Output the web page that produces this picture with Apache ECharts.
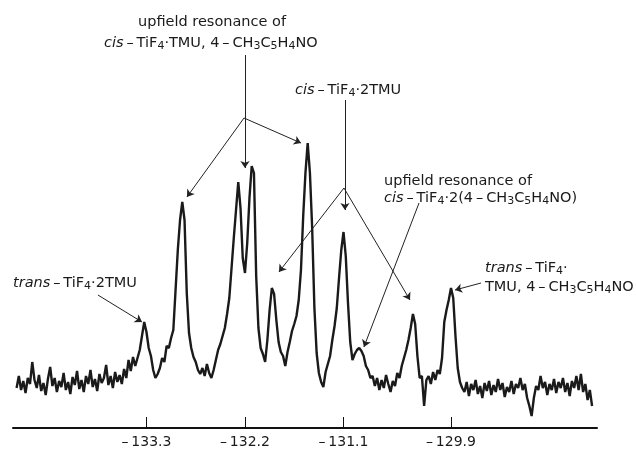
<!DOCTYPE html>
<html>
<head>
<meta charset="utf-8">
<script src="https://cdn.jsdelivr.net/npm/echarts@6/dist/echarts.min.js"></script>
<style>
    html, body { margin: 0; padding: 0; background: #fff; }
    #myChart { width: 636px; height: 449px; }
</style>
</head>
<body>
<div id="myChart"></div>
<script>
    // 19F spectrum, chemical shift (ppm) sampled on an even grid
    const ppmStart = -134.75;
    const ppmStep = 0.025;
    // signal height, one value per grid step
    const intensity = [
        40, 52, 38, 47, 35, 50, 44, 66, 48, 40,
        53, 37, 45, 33, 49, 61, 42, 50, 36, 47,
        41, 55, 38, 46, 34, 51, 43, 57, 39, 48,
        36, 52, 44, 58, 41, 49, 37, 54, 45, 50,
        63, 43, 52, 40, 56, 46, 53, 44, 59, 50,
        68, 57, 71,
        62, 70, 78, 92, 106, 96, 80, 72, 58, 50,
        54, 60, 70, 66, 82, 80, 90, 98, 138, 178,
        208, 226, 208, 135, 95, 80, 71, 66, 58, 54,
        60, 52, 64, 55, 50, 58, 68, 78, 84, 92,
        100, 114, 130, 160, 190, 218, 246,
        220, 170, 155, 185, 230, 262, 255, 152, 100, 80,
        74, 66, 88, 118, 140, 134, 108, 86, 76, 72,
        62, 76, 86, 97, 104, 112, 128, 158, 212, 255,
        285, 255, 200, 120, 75, 55, 46, 41, 56, 64,
        72, 88, 102, 120, 150, 178, 196, 172, 125, 86,
        68, 74, 78, 80, 77, 72, 62, 58, 50, 52,
        42, 50, 38, 48, 40, 53, 44, 36, 47, 42,
        55, 50, 62, 70, 78, 88, 100, 114, 104, 72,
        50, 52, 22, 48, 52, 44, 56, 48, 58, 54,
        70, 106, 118, 128, 140, 130, 92, 60, 46, 40,
        36, 46, 32, 44, 38, 48, 34, 42, 30, 45,
        37, 47, 33, 43, 36, 49, 38, 45, 31, 41,
        36, 47, 34, 44, 40, 50, 38, 44, 30, 22,
        12, 30, 42, 38, 52, 40, 46, 33, 44, 38,
        49, 35, 46, 40, 50, 36, 45, 32, 47, 40,
        52, 38, 54, 36, 44, 28, 38, 22
    ];
    // labelled shifts on the axis
    const tickValues = [-133.3, -132.2, -131.1, -129.9];

    // annotation arrows: [from, to] in (ppm, height)
    const arrows = [
        [[-132.200, 373], [-132.200, 260]],
        [[-132.211, 310], [-132.848, 231]],
        [[-132.211, 310], [-131.575, 285]],
        [[-131.084, 328], [-131.084, 218]],
        [[-131.095, 240], [-131.821, 156]],
        [[-131.095, 240], [-130.358, 128]],
        [[-130.257, 225], [-130.872, 81]],
        [[-133.842, 133], [-133.350, 106]],
        [[-129.565, 145], [-129.855, 138]]
    ];

    let points = intensity.map((v, i) => [ppmStart + i * ppmStep, v]);

    const font = 'DejaVu Sans';
    const dash = '\u2009\u2013\u2009';
    const rich = {
        n: { fontFamily: font, fontSize: 14.5, lineHeight: 18, fill: '#1a1a1a' },
        i: { fontFamily: font, fontSize: 14.5, lineHeight: 18, fontStyle: 'italic', fill: '#1a1a1a' },
        s: { fontFamily: font, fontSize: 11, lineHeight: 10, verticalAlign: 'bottom', fill: '#1a1a1a' }
    };
    function note(x, y, text) {
        return {
            type: 'text',
            x: x,
            y: y,
            silent: true,
            style: {
                text: text,
                rich: rich,
                textAlign: 'left',
                textVerticalAlign: 'middle',
                font: '14.5px "DejaVu Sans"',
                fill: '#1a1a1a'
            }
        };
    }

    let option = {
        backgroundColor: '#fff',
        animation: false,
        grid: {
            left: 13,
            right: 39,
            top: 28,
            bottom: 21
        },
        xAxis: {
            type: 'value',
            min: -134.79,
            max: -128.27,
            splitLine: { show: false },
            axisLine: {
                onZero: false,
                lineStyle: { color: '#111', width: 2 }
            },
            axisTick: {
                inside: true,
                length: 11,
                customValues: tickValues,
                lineStyle: { color: '#111', width: 1 }
            },
            axisLabel: {
                customValues: tickValues,
                margin: 7,
                color: '#1a1a1a',
                fontFamily: font,
                fontSize: 14,
                formatter: v => '\u2013\u2009' + Math.abs(v).toFixed(1)
            }
        },
        yAxis: {
            type: 'value',
            min: 0,
            max: 400,
            show: false
        },
        series: [{
            type: 'line',
            data: points,
            showSymbol: false,
            silent: true,
            lineStyle: { color: '#1a1a1a', width: 2.4 },
            markLine: {
                silent: true,
                symbol: ['none', 'arrow'],
                symbolSize: 7,
                label: { show: false },
                lineStyle: { color: '#222', width: 1, type: 'solid' },
                data: arrows.map(a => [{ coord: a[0] }, { coord: a[1] }])
            }
        }],
        graphic: [
            note(138, 22, '{n|upfield resonance of}'),
            note(104, 43, '{i|cis}{n|' + dash + 'TiF}{s|4}{n|\u00b7TMU, 4' + dash + 'CH}{s|3}{n|C}{s|5}{n|H}{s|4}{n|NO}'),
            note(295, 90, '{i|cis}{n|' + dash + 'TiF}{s|4}{n|\u00b72TMU}'),
            note(384, 181, '{n|upfield resonance of}'),
            note(384, 198, '{i|cis}{n|' + dash + 'TiF}{s|4}{n|\u00b72(4' + dash + 'CH}{s|3}{n|C}{s|5}{n|H}{s|4}{n|NO)}'),
            note(13, 283, '{i|trans}{n|' + dash + 'TiF}{s|4}{n|\u00b72TMU}'),
            note(485, 268, '{i|trans}{n|' + dash + 'TiF}{s|4}{n|\u00b7}'),
            note(485, 287, '{n|TMU, 4' + dash + 'CH}{s|3}{n|C}{s|5}{n|H}{s|4}{n|NO}')
        ]
    };

    let myChart = echarts.init(document.getElementById('myChart'));
    myChart.setOption(option);
</script>
</body>
</html>
